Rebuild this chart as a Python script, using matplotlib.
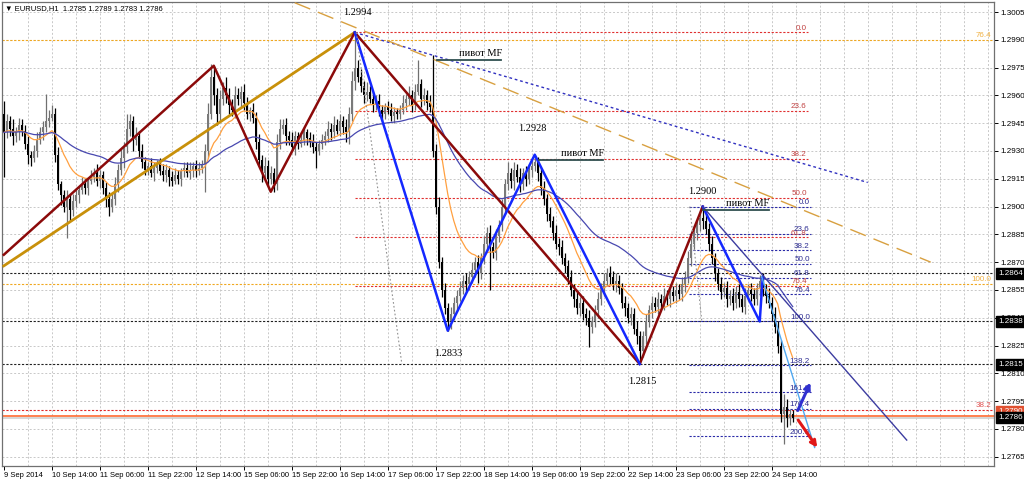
import numpy as np
import pandas as pd
import matplotlib
matplotlib.use("Agg")
import matplotlib.pyplot as plt
from matplotlib.transforms import blended_transform_factory

# EURUSD H1, one bar per hour from 9 Sep 2014 22:00
# closes in pips above 1.2800
close_pips = [
    140, 146, 142, 138, 140, 144, 141,
    134, 128, 126, 130,
    136, 140, 143, 146, 148, 150,
    128, 112, 106, 100, 104, 98, 103,
    106, 109, 112, 110, 114, 116, 118, 114, 117,
    110, 104, 100, 104,
    112, 120, 126, 132, 142, 146, 136, 138, 130, 124,
    120, 122, 118, 121, 123, 119, 117, 120, 116, 114, 117, 115, 119, 121, 118, 120, 122, 119, 121, 123,
    130, 150, 170, 160,
    150, 158, 164, 160, 155, 152, 160, 158, 162, 156, 150, 152, 148,
    135, 125, 118, 122, 115, 118, 112,
    135, 142, 144, 138,
    136, 132, 138, 134, 136, 140, 137, 135, 132, 130, 134, 136,
    138, 142, 140, 144, 141, 146, 143, 140,
    150, 168, 175, 170,
    165, 160, 162, 158, 155, 157, 152, 150, 154, 152, 149, 151, 150,
    152, 156, 158, 160, 155, 162, 166, 158, 160, 156, 154,
    130, 100, 70, 55, 45, 38, 42, 48,
    52, 56, 60, 58, 62, 66, 70, 64, 72,
    80, 86, 78, 75, 84, 90,
    100, 112, 118, 114, 120, 116, 112, 118, 115, 120, 122, 124, 118,
    110, 104, 96, 92, 86, 80, 78, 72, 68,
    62, 55, 50, 45, 48, 42, 40, 35, 38,
    44, 50, 56, 60, 64, 62, 58, 60, 56,
    48, 45, 40, 42, 34, 30,
    22,
    30, 38, 44, 48, 46, 50, 48, 52, 50, 54, 52, 55, 53, 58,
    62, 72, 80, 86, 90, 94, 92,
    88, 80, 72, 64,
    58, 54, 56, 50, 52, 48, 54, 50, 46, 52, 55, 53, 50,
    56, 60, 55, 52, 48,
    42, 35, 25,
    -12,
    -8, -14, -12, -14,
]
# shadows in pips above / below the body
wick_up = [
    7, 4, 3, 5, 3, 4, 3,
    3, 4, 2, 3,
    4, 3, 3, 15, 4, 5,
    3, 4, 2, 3, 5, 3, 4,
    3, 2, 4, 3, 2, 4, 3, 5, 3,
    2, 3, 4, 3,
    4, 3, 5, 3, 8, 4, 3, 5, 3, 4,
    3, 2, 4, 3, 2, 3, 4, 3, 2, 3, 4, 3, 2, 3, 3, 4, 2, 3, 3, 2,
    4, 6, 7, 5,
    4, 5, 3, 6, 4, 3, 5, 4, 3, 4, 3, 2, 4,
    3, 4, 3, 5, 3, 4, 3,
    4, 5, 3, 4,
    3, 4, 3, 2, 4, 3, 2, 3, 4, 3, 2, 3,
    3, 4, 3, 5, 3, 4, 3, 4,
    4, 5, 19, 4,
    4, 3, 5, 3, 4, 3, 4, 3, 2, 3, 4, 3, 2,
    3, 4, 3, 5, 3, 4, 13, 3, 4, 3, 4,
    28, 4, 5, 3, 4, 3, 4, 3,
    3, 4, 3, 4, 3, 4, 3, 4, 3,
    4, 3, 4, 3, 4, 3,
    4, 3, 6, 3, 4, 3, 5, 3, 4, 3, 3, 4, 3,
    3, 4, 3, 4, 3, 4, 3, 4, 3,
    3, 4, 3, 4, 3, 4, 3, 4, 3,
    3, 4, 3, 4, 3, 4, 3, 4, 3,
    3, 4, 3, 4, 3, 4,
    3,
    3, 4, 3, 4, 3, 4, 3, 4, 3, 4, 3, 4, 3, 4,
    3, 4, 3, 4, 3, 4, 6,
    4, 3, 4, 3,
    3, 4, 3, 4, 3, 4, 3, 4, 3, 4, 3, 4, 3,
    3, 3, 4, 3, 4,
    3, 4, 3,
    3,
    7, 4, 3, 2,
]
wick_dn = [
    24, 3, 4, 5, 3, 4, 3,
    3, 5, 4, 2,
    3, 2, 4, 3, 3, 2,
    4, 3, 5, 3, 17, 6, 3,
    3, 4, 2, 3, 4, 2, 3, 3, 4,
    3, 4, 5, 3,
    3, 4, 3, 5, 3, 4, 6, 3, 4, 3,
    3, 3, 2, 4, 3, 2, 3, 4, 5, 3, 2, 3, 4, 3, 2, 3, 4, 3, 2, 3,
    15, 4, 3, 5,
    6, 4, 3, 4, 5, 3, 4, 3, 5, 4, 3, 4, 3,
    4, 3, 5, 3, 4, 3, 4,
    3, 4, 3, 5,
    3, 2, 4, 3, 2, 3, 4, 3, 3, 9, 2, 3,
    3, 3, 4, 3, 2, 3, 4, 5,
    6, 4, 5, 3,
    3, 4, 3, 2, 4, 3, 3, 4, 3, 2, 3, 4, 3,
    3, 2, 4, 3, 4, 3, 2, 4, 3, 4, 3,
    3, 4, 3, 4, 3, 5, 4, 3,
    4, 3, 3, 4, 3, 3, 4, 5, 3,
    3, 4, 23, 3, 4, 3,
    3, 4, 3, 4, 5, 3, 4, 3, 4, 3, 4, 3, 4,
    4, 3, 4, 3, 4, 3, 4, 3, 4,
    4, 3, 4, 3, 4, 3, 4, 11, 3,
    3, 4, 3, 4, 3, 4, 3, 4, 3,
    3, 4, 3, 4, 3, 4,
    7,
    3, 4, 3, 4, 3, 4, 3, 4, 3, 4, 3, 4, 3, 4,
    4, 3, 4, 3, 4, 3, 4,
    3, 4, 3, 4,
    3, 4, 3, 4, 3, 4, 3, 4, 3, 4, 3, 4, 3,
    3, 4, 3, 4, 3,
    4, 3, 4,
    4,
    16, 5, 4, 2,
]
first_open = 150

time_labels = ["9 Sep 2014", "10 Sep 14:00", "11 Sep 06:00", "11 Sep 22:00", "12 Sep 14:00",
               "15 Sep 06:00", "15 Sep 22:00", "16 Sep 14:00", "17 Sep 06:00", "17 Sep 22:00",
               "18 Sep 14:00", "19 Sep 06:00", "19 Sep 22:00", "22 Sep 14:00", "23 Sep 06:00",
               "23 Sep 22:00", "24 Sep 14:00"]
price_ticks = [1.2765, 1.2780, 1.2795, 1.2810, 1.2825, 1.2840, 1.2855, 1.2870, 1.2885,
               1.2900, 1.2915, 1.2930, 1.2945, 1.2960, 1.2975, 1.2990, 1.3005]

# drawn objects: (bar, price)
zz_red_bar = [0, 70, 89, 117, 212, 233]
zz_red_px = [1.2874, 1.2976, 1.2908, 1.2994, 1.2815, 1.2900]
zz_blue_bar = [117, 148, 177, 212]
zz_blue_px = [1.2994, 1.2833, 1.2928, 1.2815]
zz_blue2_bar = [233, 252, 253]
zz_blue2_px = [1.2900, 1.2838, 1.2862]
chan_bar, chan_px = [0, 117], [1.2868, 1.2994]
lblue_bar, lblue_px = [252.7, 270.3], [1.2862, 1.2770]
navy_bar, navy_px = [233, 301], [1.2900, 1.2774]
navydot_bar, navydot_px = [117, 288], [1.2994, 1.2913]
golddash_bar, golddash_px = [97, 309], [1.3010, 1.2870]
gray1_bar, gray1_px = [117.5, 132.7], [1.2994, 1.2815]
gray2_bar, gray2_px = [228.7, 232.7], [1.2900, 1.2838]

fib_red = (1.2994, 1.2815, 117, 268)
fib_red_levels = [0.0, 23.6, 38.2, 50.0, 61.8, 76.4]
fib_blue = (1.2900, 1.2838, 228.5, 269)
fib_blue_levels = [0.0, 23.6, 38.2, 50.0, 61.8, 76.4, 100.0, 138.2, 161.8, 176.4, 200.0]

black_lines = [1.2864, 1.2838, 1.2815]
orange_lines = [(1.2990, "76.4"), (1.2858, "100.0")]
red_line = (1.2790, "38.2")
bid = 1.2787

swing_labels = [("1.2994", 118, 1.30045), ("1.2928", 176.3, 1.29424), ("1.2833", 148.3, 1.28205),
                ("1.2815", 213, 1.28054), ("1.2900", 232.7, 1.29079)]
pivots = [(144.3, 165.7, 1.29791), (178.3, 199.7, 1.29251), (233, 255, 1.28982)]

# ---------------------------------------------------------------
c = 1.28 + np.array(close_pips) / 1e4
o = 1.28 + np.array([first_open] + close_pips[:-1]) / 1e4
hi = np.maximum(o, c) + np.array(wick_up) / 1e4
lo = np.minimum(o, c) - np.array(wick_dn) / 1e4
n = len(c)
x = np.arange(n)
bull = c >= o

fig = plt.figure(figsize=(10.24, 4.82), dpi=100)
ax = fig.add_axes([2 / 1024, 16 / 482, 992 / 1024, 464 / 482])
ax.set_xlim(-0.6, 330.1)
ax.set_ylim(1.2760, 1.30104)

grid_kw = dict(color="#c8c8c8", lw=0.7, ls=(0, (2, 2)), zorder=0)
for p in price_ticks:
    ax.axhline(p, **grid_kw)
for g in range(8, 331, 8):
    ax.axvline(g, **grid_kw)

# full width levels
for p in black_lines:
    ax.axhline(p, color="#202020", lw=0.8, ls=(0, (2, 1.5)), zorder=1)
blend = blended_transform_factory(ax.transAxes, ax.transData)
for p, t in orange_lines:
    ax.axhline(p, color="#f0a820", lw=0.8, ls=(0, (2, 1.5)), zorder=1)
    ax.text(0.997, p + 0.00005, t, transform=blend, ha="right", va="bottom",
            fontsize=5.8, color="#f0b040", family="Liberation Sans")
ax.axhline(red_line[0], color="#e02828", lw=0.8, ls=(0, (2, 1.5)), zorder=1)
ax.text(0.997, red_line[0] + 0.00005, red_line[1], transform=blend, ha="right", va="bottom",
        fontsize=5.8, color="#e05050", family="Liberation Sans")
ax.axhline(bid - 0.00012, color="#d0d0d0", lw=1.2, zorder=1)
ax.axhline(bid, color="#ff6a30", lw=1.2, zorder=1)

# fibo levels
def fibo(f, levels, color, tcolor):
    p0, p100, b0, b1 = f
    for lv in levels:
        p = p0 + (p100 - p0) * lv / 100
        ax.plot([b0, b1], [p, p], color=color, lw=0.8, ls=(0, (2, 1.5)), zorder=1)
        ax.text(b1 - 0.3, p + 0.00004, f"{lv:.1f}", ha="right", va="bottom",
                fontsize=5.8, color=tcolor, family="Liberation Sans", zorder=6)

fibo(fib_red, fib_red_levels, "#e03030", "#c04040")
fibo(fib_blue, fib_blue_levels, "#2a2aa8", "#2a2a90")

# candles
ax.vlines(x, lo, hi, colors=np.where(bull, "#707070", "#000000"), lw=0.9, zorder=3)
ax.bar(x, np.maximum(np.abs(c - o), 0.00004), bottom=np.minimum(o, c), width=0.72,
       color=np.where(bull, "#7a7a7a", "#000000"), zorder=3)

# moving averages
s = pd.Series(c)
ax.plot(x, s.ewm(span=15, adjust=False).mean(), color="#ffa040", lw=0.9, zorder=4)
ax.plot(x, s.ewm(span=55, adjust=False).mean(), color="#4848b0", lw=0.9, zorder=4)

# trend objects
ax.plot(chan_bar, chan_px, color="#c8900a", lw=2, zorder=5)
ax.plot(zz_red_bar, zz_red_px, color="#8b0a0a", lw=1.8, zorder=5)
ax.plot(zz_blue_bar, zz_blue_px, color="#1428ff", lw=1.8, zorder=5)
ax.plot(zz_blue2_bar, zz_blue2_px, color="#1428ff", lw=1.8, zorder=5)
ax.plot(lblue_bar, lblue_px, color="#50a8f0", lw=1, zorder=5)
ax.plot(navy_bar, navy_px, color="#3c3ca0", lw=1, zorder=5)
ax.plot(navydot_bar, navydot_px, color="#3030c0", lw=1, ls=(0, (2, 2)), zorder=5)
ax.plot(golddash_bar, golddash_px, color="#d8a040", lw=1, ls=(0, (12, 6)), zorder=5)
ax.plot(gray1_bar, gray1_px, color="#909090", lw=0.8, ls=(0, (1.5, 2)), zorder=5)
ax.plot(gray2_bar, gray2_px, color="#909090", lw=0.8, ls=(0, (1.5, 2)), zorder=5)

for t, b, p in swing_labels:
    ax.text(b, p, t, ha="center", va="center", fontsize=7.5, family="Liberation Serif", zorder=6)
for b0, b1, p in pivots:
    ax.plot([b0, b1], [p, p], color="#2f4f4f", lw=1.3, zorder=6)
    ax.text((b0 + b1) / 2 + 4, p + 0.00012, "пивот MF", ha="center", va="bottom",
            fontsize=7.5, family="Liberation Serif", zorder=6)

ax.annotate("", xy=(269.3, 1.28064), xytext=(264.3, 1.27886),
            arrowprops=dict(arrowstyle="->", color="#3030d0", lw=2.2, mutation_scale=9), zorder=7)
ax.annotate("", xy=(271.7, 1.27687), xytext=(264.3, 1.27860),
            arrowprops=dict(arrowstyle="->", color="#e01818", lw=2.2, mutation_scale=9), zorder=7)

# axes
ax.yaxis.tick_right()
ax.set_yticks(price_ticks)
ax.set_yticklabels([f"{p:.4f}" for p in price_ticks], fontsize=5.8, family="Liberation Sans")
ax.set_xticks(range(0, 16 * len(time_labels), 16))
ax.set_xticklabels(time_labels, fontsize=5.5, family="Liberation Sans")
for lab in ax.get_xticklabels():
    lab.set_ha("left")
ax.tick_params(axis="both", length=3, width=0.7, pad=1.5, colors="#000000")
for sp in ax.spines.values():
    sp.set_color("#707070")
    sp.set_linewidth(0.9)

box_kw = dict(transform=blend, ha="left", va="center", fontsize=5.8, color="white",
              family="Liberation Sans", clip_on=False, zorder=10)
ax.text(1.004, 1.27895, "1.2790", bbox=dict(boxstyle="square,pad=0.25", fc="#e05030", ec="#e05030"), **box_kw)
for p in black_lines + [1.2786]:
    ax.text(1.004, p, f"{p:.4f}", bbox=dict(boxstyle="square,pad=0.25", fc="black", ec="black"), **box_kw)

ax.text(0.003, 0.985, "\u25bc EURUSD,H1  1.2785 1.2789 1.2783 1.2786", transform=ax.transAxes,
        ha="left", va="center", fontsize=5.5, family=["Liberation Sans", "DejaVu Sans"], zorder=10)

fig.savefig("out.png", dpi=100)
